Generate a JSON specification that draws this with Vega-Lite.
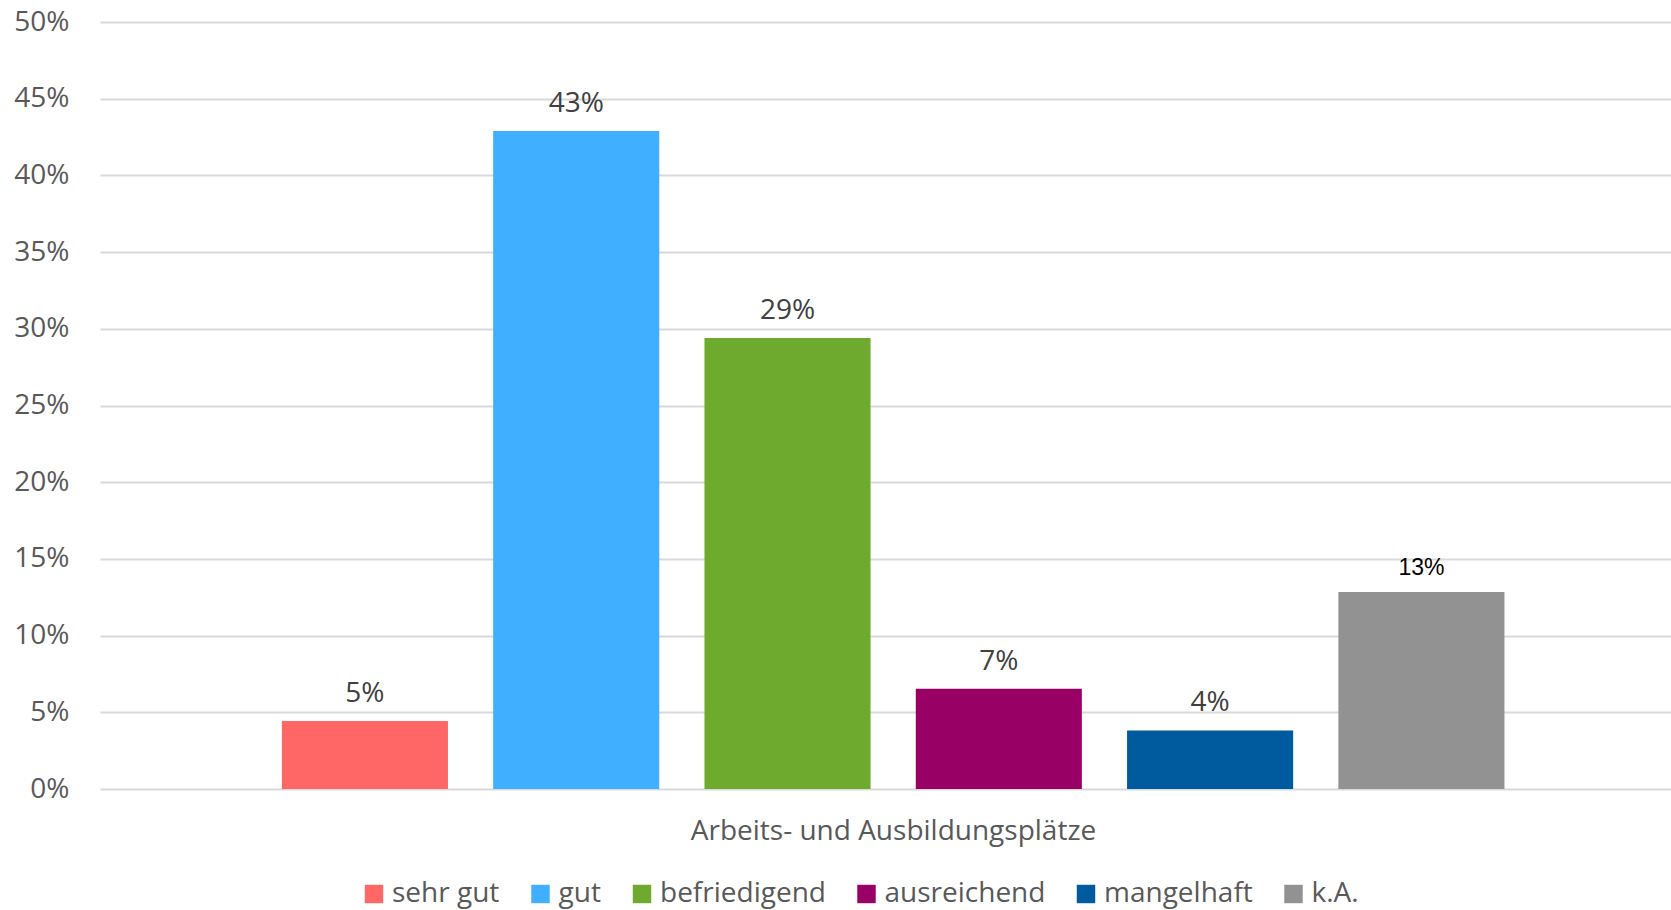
{
  "$schema": "https://vega.github.io/schema/vega-lite/v6.json",
  "width": 1571,
  "height": 767,
  "autosize": {"type": "none"},
  "padding": {"left": 100, "top": 22, "right": 0, "bottom": 121},
  "background": "white",
  "config": {"view": {"stroke": null}, "font": "Open Sans"},
  "data": {"values": [
    {"rating": "sehr gut", "value": 0.0444, "label": "5%"},
    {"rating": "gut", "value": 0.429, "label": "43%"},
    {"rating": "befriedigend", "value": 0.294, "label": "29%"},
    {"rating": "ausreichend", "value": 0.0653, "label": "7%"},
    {"rating": "mangelhaft", "value": 0.0382, "label": "4%"},
    {"rating": "k.A.", "value": 0.1285, "label": "13%"}
  ]},
  "encoding": {
    "x": {
      "field": "rating", "type": "nominal", "sort": null,
      "scale": {"paddingInner": 0.214, "paddingOuter": 0.8245, "align": 0.522},
      "axis": {"title": "Arbeits- und Ausbildungsplätze", "labels": false, "ticks": false, "domain": false,
        "titleFontSize": 28, "titleFontWeight": "normal", "titleColor": "#595959", "titleFont": "Open Sans",
        "titlePadding": 28, "titleX": 793}
    },
    "y": {
      "field": "value", "type": "quantitative", "scale": {"domain": [0, 0.5]},
      "axis": {"title": null, "format": ".0%", "values": [0, 0.05, 0.1, 0.15, 0.2, 0.25, 0.3, 0.35, 0.4, 0.45, 0.5],
        "grid": true, "gridColor": "#d9d9d9", "gridWidth": 2, "domain": false, "ticks": false,
        "labelFontSize": 28, "labelColor": "#595959", "labelPadding": 31, "labelFont": "Open Sans"}
    }
  },
  "layer": [
    {
      "mark": {"type": "bar"},
      "encoding": {
        "color": {
          "field": "rating", "type": "nominal", "sort": null,
          "scale": {
            "domain": ["sehr gut", "gut", "befriedigend", "ausreichend", "mangelhaft", "k.A."],
            "range": ["#FF6666", "#40AFFF", "#6DAA2D", "#990066", "#005A9E", "#929292"]
          },
          "legend": {
            "orient": "none", "legendX": 260, "legendY": 858, "direction": "horizontal", "title": null,
            "symbolType": "square", "symbolSize": 340, "symbolStrokeWidth": 0, "symbolOpacity": 1,
            "labelFontSize": 28, "labelColor": "#595959", "labelFont": "Open Sans", "labelOffset": 4,
            "labelLimit": 0, "columnPadding": 26.5, "padding": 0
          }
        }
      }
    },
    {
      "transform": [{"filter": "datum.rating != 'k.A.'"}],
      "mark": {"type": "text", "baseline": "alphabetic", "dy": -19, "fontSize": 28, "color": "#404040", "font": "Open Sans"},
      "encoding": {"text": {"field": "label"}}
    },
    {
      "transform": [{"filter": "datum.rating == 'k.A.'"}],
      "mark": {"type": "text", "baseline": "alphabetic", "dy": -17, "fontSize": 23, "color": "#000000", "font": "Liberation Sans"},
      "encoding": {"text": {"field": "label"}}
    }
  ]
}
